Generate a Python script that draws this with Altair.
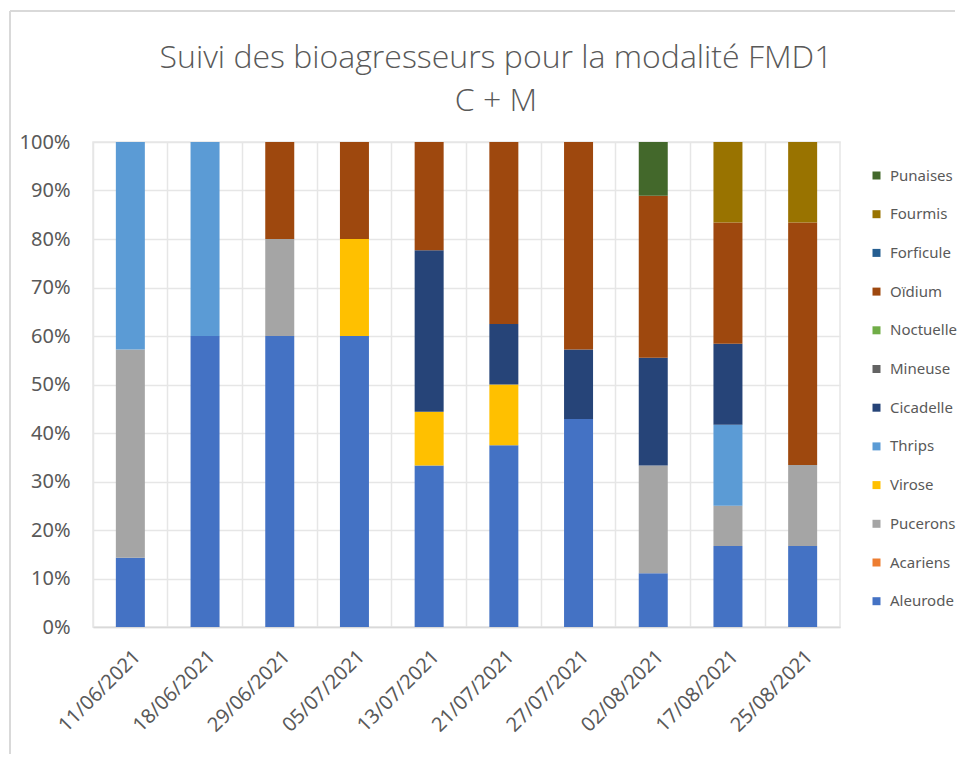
import altair as alt
import pandas as pd

dates = ["11/06/2021", "18/06/2021", "29/06/2021", "05/07/2021", "13/07/2021",
         "21/07/2021", "27/07/2021", "02/08/2021", "17/08/2021", "25/08/2021"]

aleurode  = [14.3, 60.0, 60.0, 60.0, 33.3, 37.5, 42.9, 11.1, 16.7, 16.7]
acariens  = [0, 0, 0, 0, 0, 0, 0, 0, 0, 0]
pucerons  = [42.9, 0, 20.0, 0, 0, 0, 0, 22.2, 8.3, 16.7]
virose    = [0, 0, 0, 20.0, 11.1, 12.5, 0, 0, 0, 0]
thrips    = [42.8, 40.0, 0, 0, 0, 0, 0, 0, 16.7, 0]
cicadelle = [0, 0, 0, 0, 33.3, 12.5, 14.3, 22.2, 16.7, 0]
mineuse   = [0, 0, 0, 0, 0, 0, 0, 0, 0, 0]
noctuelle = [0, 0, 0, 0, 0, 0, 0, 0, 0, 0]
oidium    = [0, 0, 20.0, 20.0, 22.3, 37.5, 42.8, 33.4, 25.0, 50.0]
forficule = [0, 0, 0, 0, 0, 0, 0, 0, 0, 0]
fourmis   = [0, 0, 0, 0, 0, 0, 0, 0, 16.6, 16.6]
punaises  = [0, 0, 0, 0, 0, 0, 0, 11.1, 0, 0]

title_lines = ["Suivi des bioagresseurs pour la modalité FMD1", "C + M"]

# bottom -> top stacking order
series_names = ["Aleurode", "Acariens", "Pucerons", "Virose", "Thrips", "Cicadelle",
                "Mineuse", "Noctuelle", "Oïdium", "Forficule", "Fourmis", "Punaises"]
series_values = [aleurode, acariens, pucerons, virose, thrips, cicadelle,
                 mineuse, noctuelle, oidium, forficule, fourmis, punaises]
series_colors = ["#4472C4", "#ED7D31", "#A5A5A5", "#FFC000", "#5B9BD5", "#264478",
                 "#636363", "#70AD47", "#9E480E", "#255E91", "#997300", "#43682B"]

rows = []
for i, (name, vals) in enumerate(zip(series_names, series_values)):
    for d, v in zip(dates, vals):
        rows.append({"date": d, "serie": name, "valeur": v, "ordre": i})
df = pd.DataFrame(rows)

legend_domain = series_names[::-1]
legend_range = series_colors[::-1]

FONT = "Noto Sans"
GREY = "#595959"

bars = alt.Chart(df).mark_bar(size=29).encode(
    x=alt.X("date:N", sort=dates, title=None,
            scale=alt.Scale(paddingInner=0, paddingOuter=0),
            axis=alt.Axis(labelAngle=-45, labelAlign="right", labelBaseline="top",
                          labelFont=FONT, labelFontSize=20, labelColor=GREY,
                          labelPadding=19, ticks=False, domainColor="#D9D9D9",
                          domainWidth=1.5, grid=True, gridColor="#E6E6E6",
                          gridWidth=1.5, bandPosition=0)),
    y=alt.Y("valeur:Q", stack="normalize", title=None,
            scale=alt.Scale(domain=[0, 1], nice=False),
            axis=alt.Axis(format=".0%", values=[i / 10 for i in range(11)],
                          labelFont=FONT, labelFontSize=20, labelColor=GREY,
                          labelPadding=23, ticks=False, domain=False,
                          gridColor="#E6E6E6", gridWidth=1.5)),
    color=alt.Color("serie:N", title=None,
                    scale=alt.Scale(domain=legend_domain, range=legend_range),
                    legend=alt.Legend(orient="none", legendX=776, legendY=26,
                                      symbolType="square", symbolSize=64,
                                      symbolStrokeWidth=0, labelFont=FONT,
                                      labelFontSize=15, labelColor=GREY,
                                      rowPadding=22.7, labelOffset=6, padding=0)),
    order=alt.Order("ordre:Q", sort="ascending"),
)

frame_top = alt.Chart(df).mark_rule(color="#D9D9D9", strokeWidth=2).encode(
    x=alt.value(-83), x2=alt.value(862), y=alt.value(-131))
frame_left = alt.Chart(df).mark_rule(color="#D9D9D9", strokeWidth=2).encode(
    x=alt.value(-83), y=alt.value(-131), y2=alt.value(612))

title1 = alt.Chart(pd.DataFrame({"t": [title_lines[0]]})).mark_text(
    font="Open Sans", fontSize=32, fontWeight=300, color=GREY,
    align="center", baseline="alphabetic").encode(
    text="t:N", x=alt.value(403), y=alt.value(-74))
title2 = alt.Chart(pd.DataFrame({"t": [title_lines[1]]})).mark_text(
    font="Open Sans", fontSize=32, fontWeight=300, color=GREY,
    align="center", baseline="alphabetic").encode(
    text="t:N", x=alt.value(403), y=alt.value(-31))

chart = alt.layer(frame_top, frame_left, title1, title2, bars).properties(
    width=747, height=485,
    padding={"left": 1, "top": 2, "right": 5, "bottom": 1},
).configure_view(stroke="#E6E6E6", strokeWidth=1.5)

chart.save("out.html", embed_options={"renderer": "svg", "actions": False})
